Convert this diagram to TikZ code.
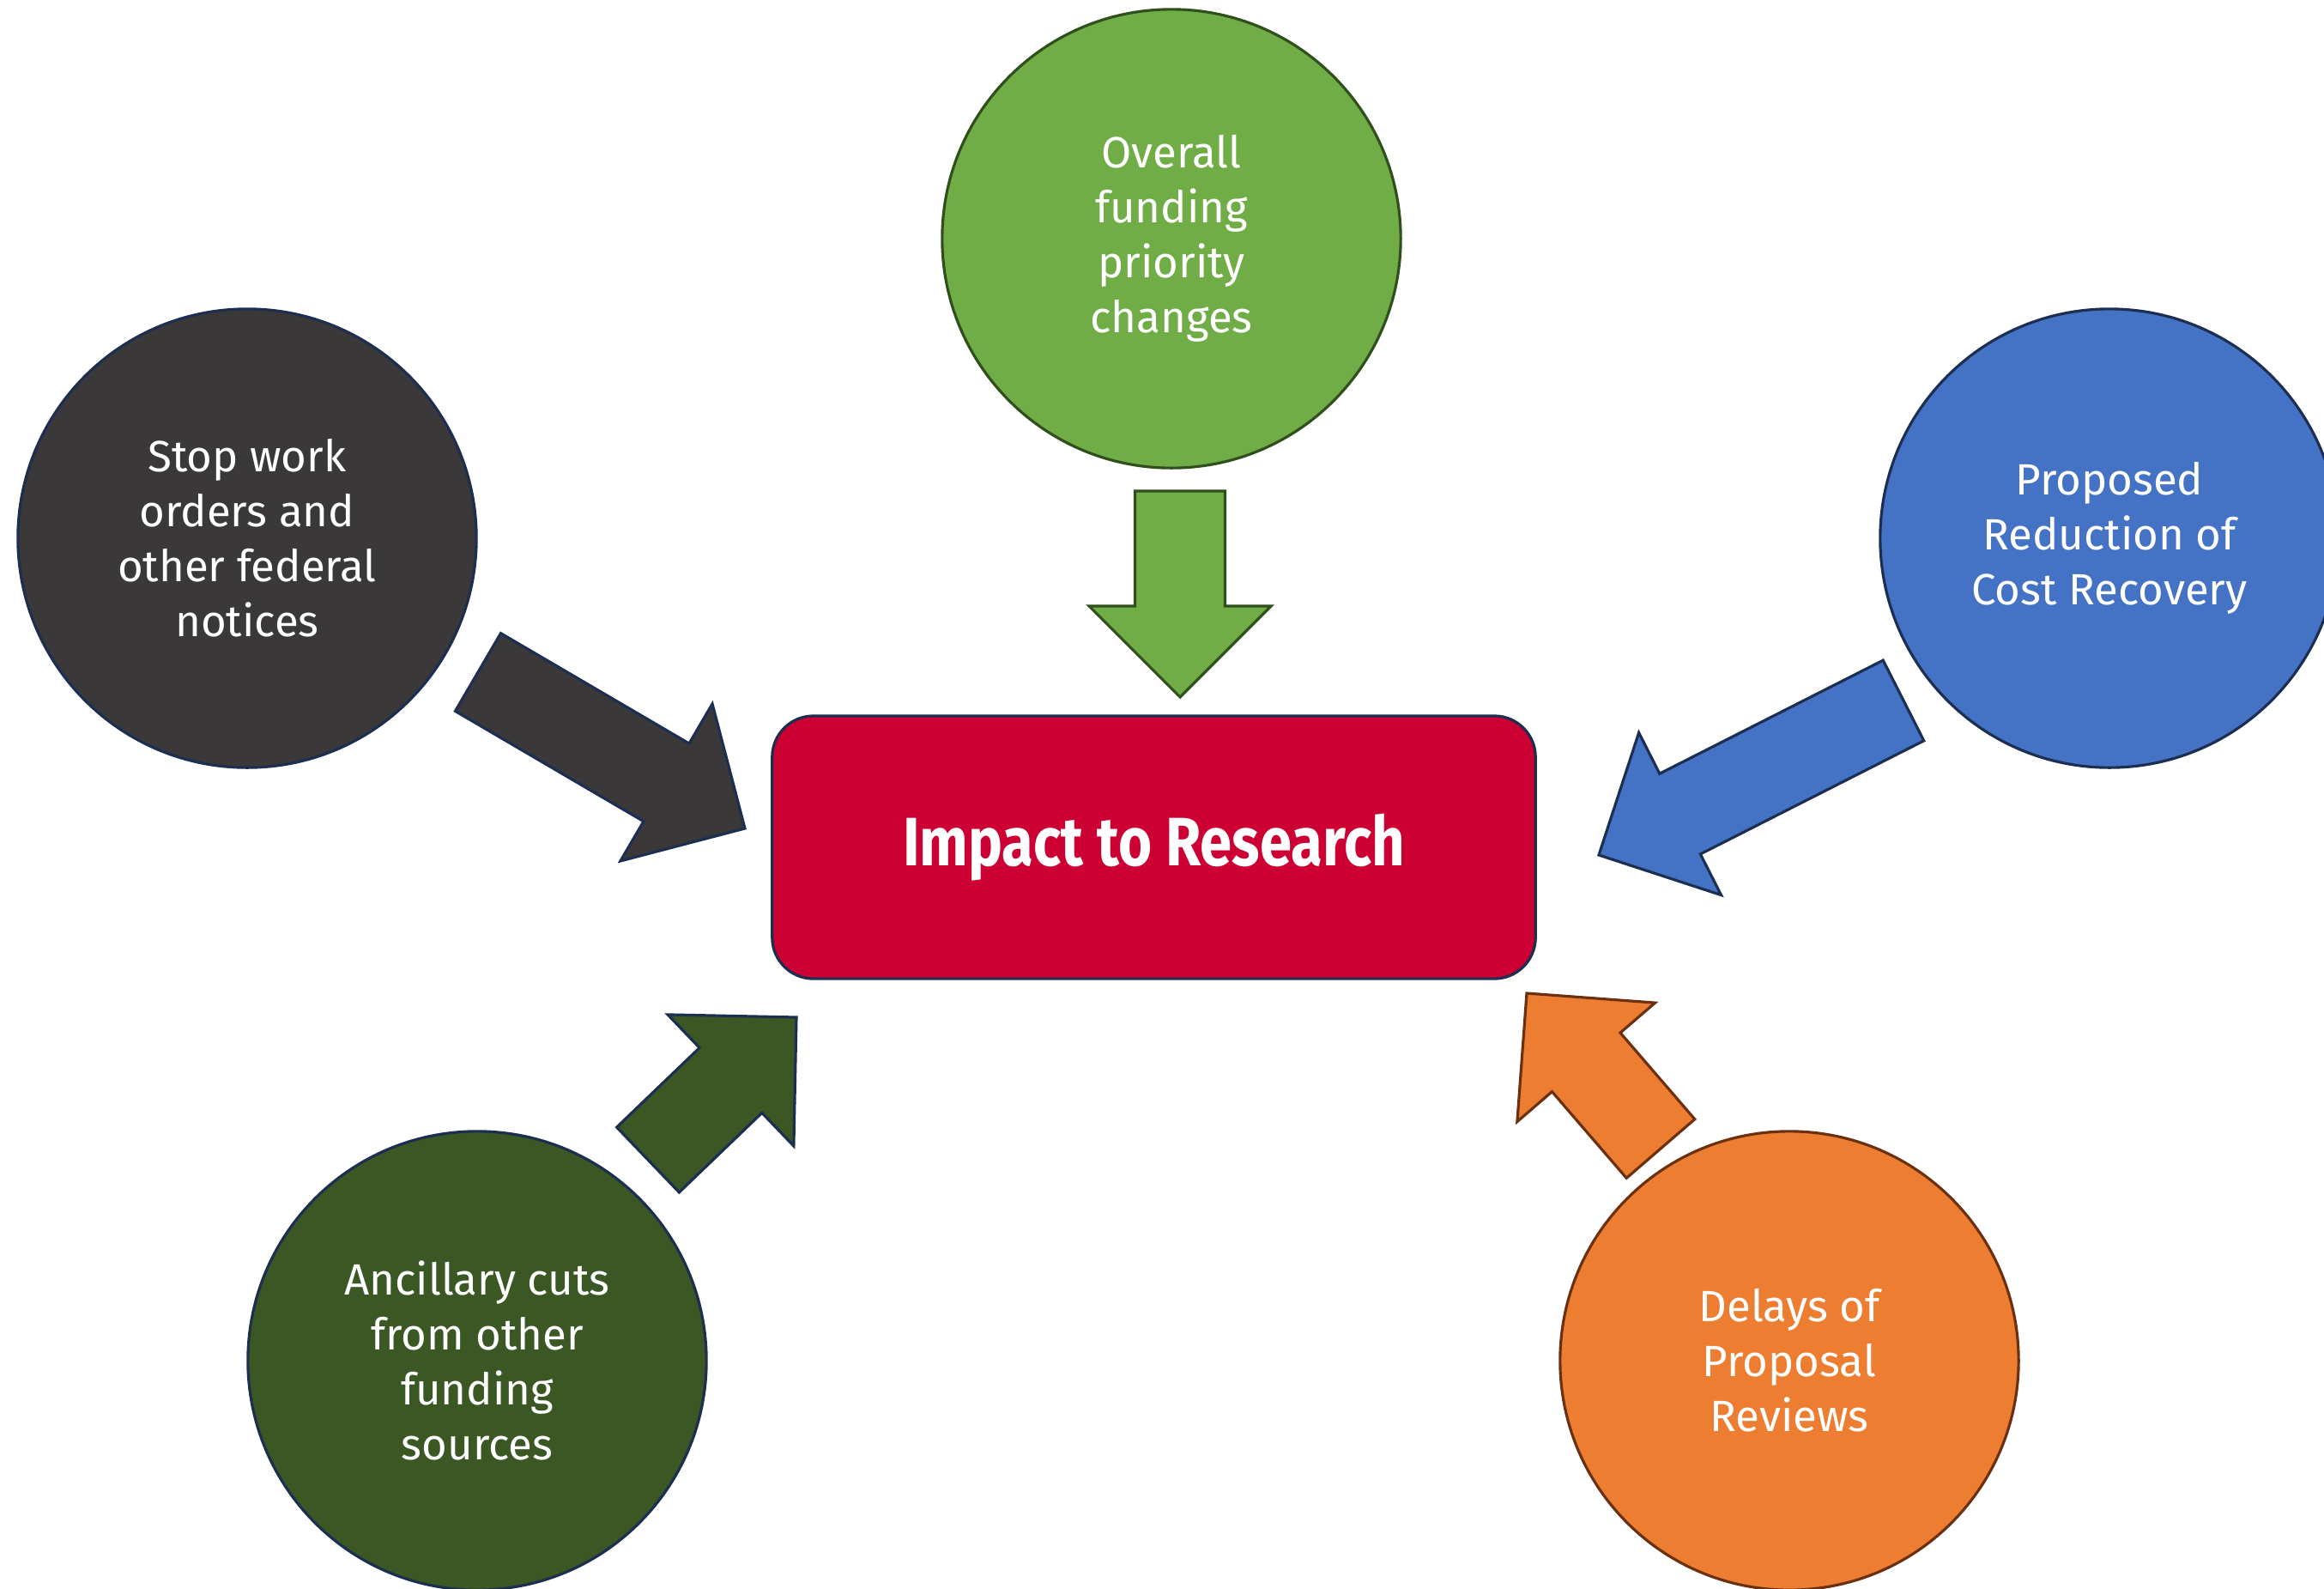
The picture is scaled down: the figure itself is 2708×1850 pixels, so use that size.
\documentclass[tikz,border=0pt]{standalone}
\usepackage{fontspec}
\setmainfont{Fira Sans}
\newfontfamily\headfont[FakeStretch=0.84]{Fira Sans}
\usetikzlibrary{calc}

\definecolor{fundgreen}{HTML}{70AD47}
\definecolor{fundline}{HTML}{2F4F1C}
\definecolor{stopgray}{HTML}{3A3838}
\definecolor{costblue}{HTML}{4472C4}
\definecolor{ancgreen}{HTML}{3A5724}
\definecolor{delayorange}{HTML}{ED7D31}
\definecolor{delayline}{HTML}{6B3010}
\definecolor{impactred}{HTML}{CC0033}
\definecolor{navyline}{HTML}{1C2F50}

% block arrow from tail #1 to tip #2, drawn with style #3
\newcommand{\fatarrow}[3]{%
	\coordinate (hb) at ($(#2)!1.06cm!(#1)$);
	\draw[#3] ($(#1)!0.525cm!90:(#2)$) -- ($(hb)!0.525cm!90:(#2)$) -- ($(hb)!1.06cm!90:(#2)$)
		-- (#2) -- ($(hb)!1.06cm!-90:(#2)$) -- ($(hb)!0.525cm!-90:(#2)$) -- ($(#1)!0.525cm!-90:(#2)$) -- cycle;
}

\begin{document}
\begin{tikzpicture}[x=0.01cm, y=-0.01cm,
		bubble/.style 2 args={circle, fill=#1, draw=#2, line width=0.9pt, minimum size=5.34cm,
			text=white, align=center, font=\fontsize{14.5}{18.2}\selectfont},
		blk/.style 2 args={fill=#1, draw=#2, line width=0.9pt, line join=miter}]
	\clip (0,0) rectangle (2708,1850);
	\fill[white] (0,0) rectangle (2708,1850);
	
	% Centre box
	\node[rectangle, rounded corners=0.48cm, fill=impactred, draw=navyline, line width=0.9pt,
		minimum width=8.89cm, minimum height=3.06cm, text=white,
		font=\headfont\bfseries\fontsize{22.7}{26}\selectfont] (impact) at (1344.5,987) {Impact to Research};
	
	% Causes
	\foreach \name/\x/\y/\fillc/\linec/\txt in {
		funding/1365/278/fundgreen/fundline/{Overall\\funding\\priority\\changes},
		stop/288/627/stopgray/navyline/{Stop work\\orders and\\other federal\\notices},
		cost/2458/627/costblue/navyline/{Proposed\\Reduction of\\Cost Recovery},
		ancillary/556/1585/ancgreen/navyline/{Ancillary cuts\\from other\\funding\\sources},
		delays/2085/1585/delayorange/delayline/{Delays of\\Proposal\\Reviews}} {
		\node[bubble={\fillc}{\linec}] (\name) at (\x,\y) {\txt};
	}
	
	% Arrow ends
	\coordinate (funding-tail) at (1375,572);
	\coordinate (funding-tip) at (1375,812);
	\coordinate (stop-tail) at (557,783);
	\coordinate (stop-tip) at (868,965);
	\coordinate (cost-tail) at (2218,816);
	\coordinate (cost-tip) at (1863,996);
	\coordinate (ancillary-tail) at (755,1351);
	\coordinate (ancillary-tip) at (928,1185);
	\coordinate (delays-tail) at (1935,1338);
	\coordinate (delays-tip) at (1779,1157);
	
	% Arrows
	\fatarrow{funding-tail}{funding-tip}{blk={fundgreen}{fundline}}
	\fatarrow{stop-tail}{stop-tip}{blk={stopgray}{navyline}}
	\fatarrow{cost-tail}{cost-tip}{blk={costblue}{navyline}}
	\fatarrow{ancillary-tail}{ancillary-tip}{blk={ancgreen}{navyline}}
	\fatarrow{delays-tail}{delays-tip}{blk={delayorange}{delayline}}
\end{tikzpicture}
\end{document}
